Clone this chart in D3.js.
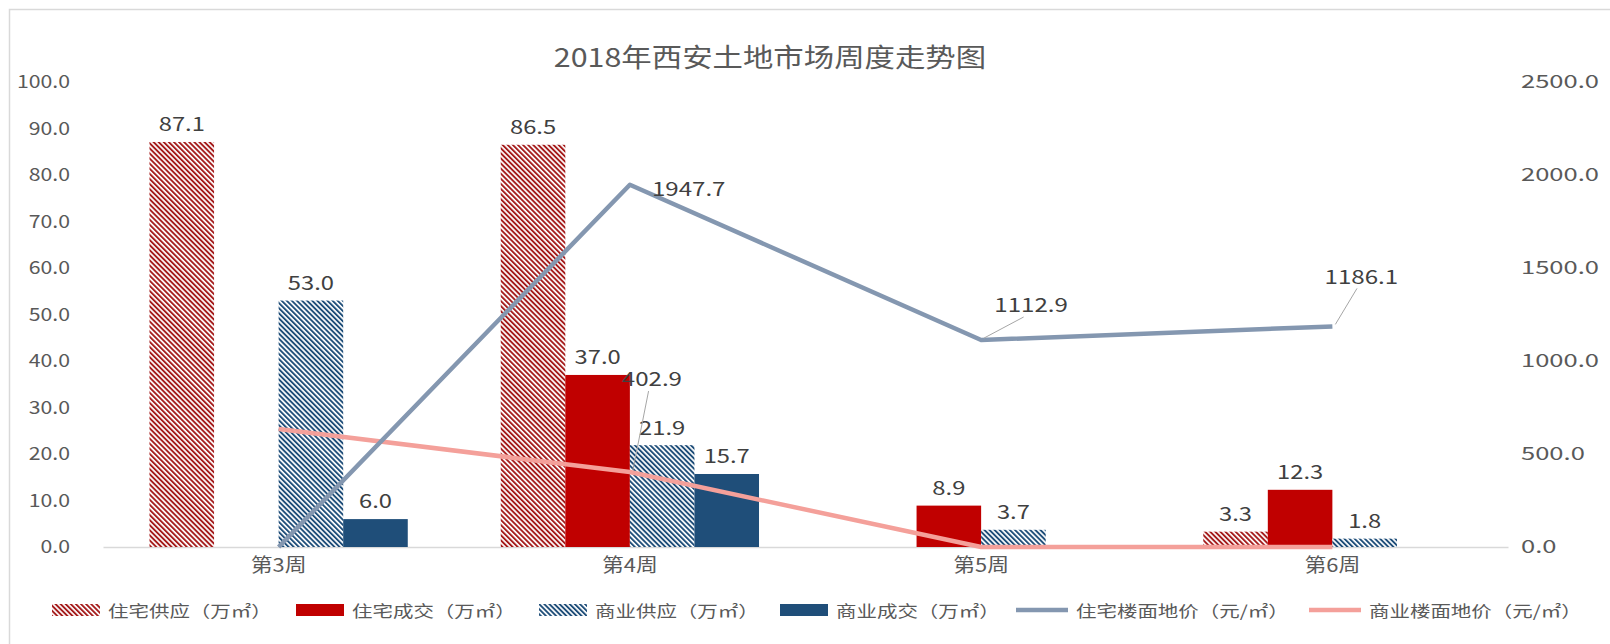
<!DOCTYPE html>
<html><head><meta charset="utf-8">
<script src="https://cdn.jsdelivr.net/npm/d3@7"></script>
<style>
body{margin:0;background:#fff;}
text{font-family:"Noto Sans CJK SC","Noto Sans",sans-serif;}
</style></head>
<body><svg id="c" width="1610" height="644"></svg>
<script>
const categories = ["第3周","第4周","第5周","第6周"];
const resSupply = [87.1, 86.5, 0, 3.3];
const resDeal = [0, 37.0, 8.9, 12.3];
const comSupply = [53.0, 21.9, 3.7, 1.8];
const comDeal = [6.0, 15.7, 0, 0];
const resPrice = [0, 1947.7, 1112.9, 1186.1];
const comPrice = [634, 402.9, 0, 0];
const leftTicks = [0,10,20,30,40,50,60,70,80,90,100];
const rightTicks = [0,500,1000,1500,2000,2500];
const title = "2018年西安土地市场周度走势图";
const barSeriesNames = ["住宅供应（万㎡）","住宅成交（万㎡）","商业供应（万㎡）","商业成交（万㎡）"];
const lineSeriesNames = ["住宅楼面地价（元/㎡）","商业楼面地价（元/㎡）"];

(function(){
const svg = d3.select("#c");
const RED="#C00000", BLUE="#1F4E79", LBLUE="#8497B0", PINK="#F4A09A", TXT="#595959", LBL="#404040";

const defs = svg.append("defs");
function hatch(id,color){
  const p = defs.append("pattern").attr("id",id).attr("patternUnits","userSpaceOnUse")
    .attr("width",3.6).attr("height",3.6).attr("patternTransform","rotate(-45)");
  p.append("rect").attr("width",3.6).attr("height",3.6).attr("fill","#fff");
  p.append("rect").attr("width",1.9).attr("height",3.6).attr("fill",color);
}
hatch("hr","#A51C1C"); hatch("hb",BLUE);

function stext(parent,x,y,str,size,sx,anchor,fill){
  return parent.append("text").attr("transform",`translate(${x},${y}) scale(${sx},1)`)
    .attr("text-anchor",anchor).attr("dominant-baseline","central")
    .attr("font-size",size).attr("fill",fill).text(str);
}

svg.append("rect").attr("x",9.5).attr("y",9.5).attr("width",1640).attr("height",700)
  .attr("fill","none").attr("stroke","#D9D9D9").attr("stroke-width",1.5);

const pL=103, pR=1508, pT=82, pB=547;
const x0 = d3.scaleBand().domain(categories).range([pL,pR]).padding(0);
const seriesKeys=[0,1,2,3];
const x1 = d3.scaleBand().domain(seriesKeys).range([0,x0.bandwidth()]).paddingInner(0).paddingOuter(0.72);
const yL = d3.scaleLinear().domain([0,100]).range([pB,pT]);
const yR = d3.scaleLinear().domain([0,2500]).range([pB,pT]);

stext(svg,770,56,title,26,1.17,"middle",TXT);

const fmt = d3.format(".1f");
const ga = svg.append("g").attr("transform",`translate(70,0)`)
  .call(d3.axisLeft(yL).tickValues(leftTicks).tickFormat(fmt).tickSize(0).tickPadding(0));
ga.select(".domain").remove();
ga.selectAll("text").attr("font-size",18).attr("fill",TXT).attr("font-family","'Noto Sans CJK SC'").attr("transform","scale(1.18,1)");
const gr = svg.append("g").attr("transform",`translate(1521,0)`)
  .call(d3.axisRight(yR).tickValues(rightTicks).tickFormat(fmt).tickSize(0).tickPadding(0));
gr.select(".domain").remove();
gr.selectAll("text").attr("font-size",18).attr("fill",TXT).attr("font-family","'Noto Sans CJK SC'").attr("transform","scale(1.42,1)");

const gb = svg.append("g").attr("transform",`translate(0,${pB})`)
  .call(d3.axisBottom(x0).tickSize(0).tickPadding(12));
gb.select(".domain").attr("stroke","#D9D9D9").attr("stroke-width",1.5);
gb.selectAll("text").attr("font-size",19).attr("fill",TXT).attr("font-family","'Noto Sans CJK SC'").attr("transform","scale(1.15,1)");

const barData = [resSupply,resDeal,comSupply,comDeal];
const fills = ["url(#hr)",RED,"url(#hb)",BLUE];
const gBars = svg.append("g");
barData.forEach((arr,si)=>{
  arr.forEach((v,ci)=>{
    if(!v) return;
    const bx = x0(categories[ci])+x1(si);
    gBars.append("rect").attr("x",bx).attr("y",yL(v)).attr("width",x1.bandwidth()).attr("height",yL(0)-yL(v))
      .attr("fill",fills[si]);
  });
});

const cx = c => x0(c)+x0.bandwidth()/2;
const line = d3.line().x((d,i)=>cx(categories[i])).y(d=>yR(d));
svg.append("path").datum(comPrice).attr("d",line).attr("fill","none").attr("stroke",PINK).attr("stroke-width",4.5).attr("stroke-linejoin","round");
svg.append("path").datum(resPrice).attr("d",line).attr("fill","none").attr("stroke",LBLUE).attr("stroke-width",4.5).attr("stroke-linejoin","round");

barData.forEach((arr,si)=>{
  arr.forEach((v,ci)=>{
    if(!v) return;
    const bx = x0(categories[ci])+x1(si)+x1.bandwidth()/2;
    stext(svg,bx,yL(v)-19,fmt(v),19,1.25,"middle",LBL);
  });
});

const resLabelPos = [null,{dx:22,dy:3,anchor:"start",leader:false},{dx:50,dy:-36,anchor:"middle",leader:true},{dx:29,dy:-51,anchor:"middle",leader:true}];
const comLabelPos = [null,{dx:22,dy:-94,anchor:"middle",leader:true},null,null];
function lineLabels(arr,pos){
  arr.forEach((v,i)=>{
    const p=pos[i]; if(!p) return;
    const px=cx(categories[i]), py=yR(v);
    if(p.leader){
      svg.append("line").attr("x1",px+3).attr("y1",py-2).attr("x2",px+p.dx*0.85).attr("y2",py+p.dy+13)
        .attr("stroke","#A6A6A6").attr("stroke-width",1);
    }
    stext(svg,px+p.dx,py+p.dy,fmt(v),19,1.27,p.anchor,LBL);
  });
}
lineLabels(resPrice,resLabelPos);
lineLabels(comPrice,comLabelPos);

const ly=610;
const legItems = [
  {name:barSeriesNames[0],type:"bar",fill:"url(#hr)",x:52},
  {name:barSeriesNames[1],type:"bar",fill:RED,x:296},
  {name:barSeriesNames[2],type:"bar",fill:"url(#hb)",x:539},
  {name:barSeriesNames[3],type:"bar",fill:BLUE,x:780},
  {name:lineSeriesNames[0],type:"line",fill:LBLUE,x:1016},
  {name:lineSeriesNames[1],type:"line",fill:PINK,x:1309}
];
const gl = svg.append("g");
legItems.forEach(it=>{
  if(it.type==="bar"){
    gl.append("rect").attr("x",it.x).attr("y",ly-6).attr("width",48).attr("height",12).attr("fill",it.fill);
  } else {
    gl.append("line").attr("x1",it.x).attr("x2",it.x+52).attr("y1",ly).attr("y2",ly).attr("stroke",it.fill).attr("stroke-width",4.5);
  }
  stext(gl,it.x+(it.type==="bar"?56:60),ly,it.name,16,1.28,"start",TXT);
});
})();
</script></body></html>
